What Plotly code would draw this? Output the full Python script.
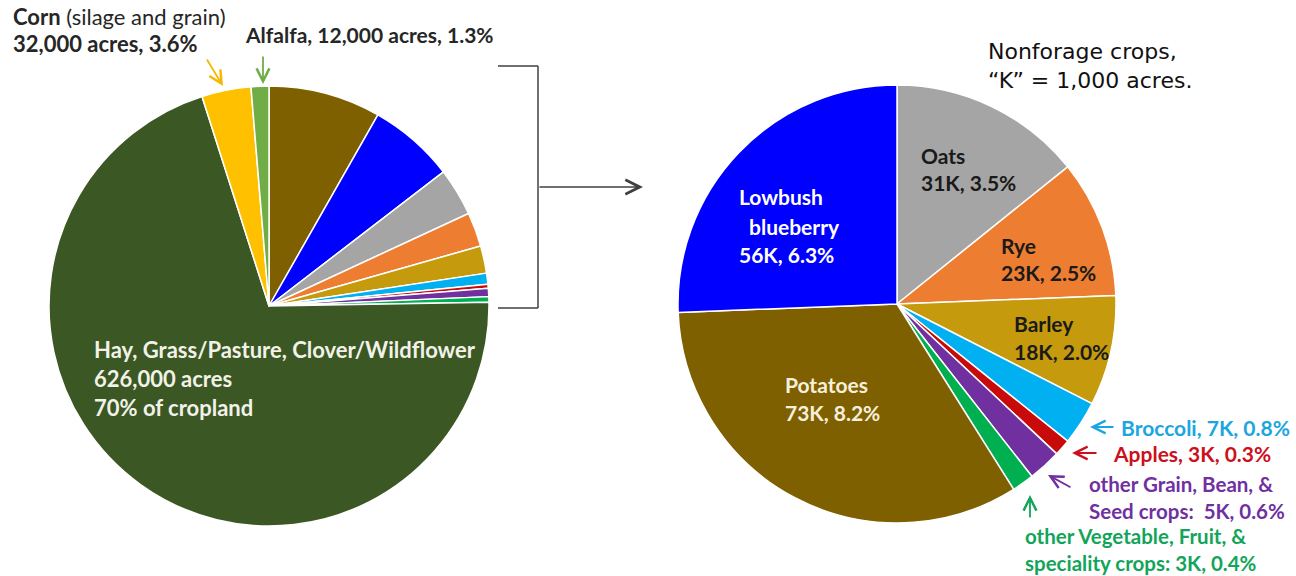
import plotly.graph_objects as go

# ---------------- data ----------------
nonforage_crops = ["Potatoes", "Lowbush blueberry", "Oats", "Rye", "Barley", "Broccoli", "Apples",
                   "other Grain, Bean, & Seed crops", "other Vegetable, Fruit, & speciality crops"]
nonforage_k = [73, 56, 31, 23, 18, 7, 3, 5, 3]
nonforage_pct = [8.2, 6.3, 3.5, 2.5, 2.0, 0.8, 0.3, 0.6, 0.4]

forage_crops = ["Hay, Grass/Pasture, Clover/Wildflower", "Corn", "Alfalfa"]
forage_acres = [626000, 32000, 12000]
forage_pct = [70, 3.6, 1.3]

# ---------------- styles ----------------
colors = {
    "Potatoes": "#7F6000",
    "Lowbush blueberry": "#0000FF",
    "Oats": "#A5A5A5",
    "Rye": "#ED7D31",
    "Barley": "#C59A0C",
    "Broccoli": "#00B0F0",
    "Apples": "#C80A0A",
    "other Grain, Bean, & Seed crops": "#7030A0",
    "other Vegetable, Fruit, & speciality crops": "#00B050",
    "Hay, Grass/Pasture, Clover/Wildflower": "#3A5724",
    "Corn": "#FFC000",
    "Alfalfa": "#70AD47",
}

W, H = 1296, 576
FONT = "Lato"
TITLE_FONT = "DejaVu Sans"


def px(x):
    return x / W


def py(y):
    return 1 - y / H


fig = go.Figure()

# Left pie: all cropland (nonforage wedge first, clockwise from 12 o'clock)
left_labels = nonforage_crops + forage_crops
left_values = nonforage_pct + forage_pct
lcx, lcy, lr = 269, 306, 220
fig.add_trace(go.Pie(
    labels=left_labels, values=left_values, sort=False, direction="clockwise", rotation=0,
    marker=dict(colors=[colors[c] for c in left_labels], line=dict(color="white", width=1.5)),
    textinfo="none", hoverinfo="label+value", showlegend=False,
    domain=dict(x=[px(lcx - lr), px(lcx + lr)], y=[py(lcy + lr), py(lcy - lr)]),
))

# Right pie: nonforage crops only, starting with Oats at 12 o'clock
order = [2, 3, 4, 5, 6, 7, 8, 0, 1]
right_labels = [nonforage_crops[i] for i in order]
right_values = [nonforage_pct[i] for i in order]
rcx, rcy, rr = 897, 304, 219
fig.add_trace(go.Pie(
    labels=right_labels, values=right_values, sort=False, direction="clockwise", rotation=0,
    marker=dict(colors=[colors[c] for c in right_labels], line=dict(color="white", width=1.5)),
    textinfo="none", hoverinfo="label+value", showlegend=False,
    domain=dict(x=[px(rcx - rr), px(rcx + rr)], y=[py(rcy + rr), py(rcy - rr)]),
))


def text(x, y, s, color="#1a1a1a", size=21, bold=True, anchor="left", family=FONT, yanchor="middle"):
    fig.add_annotation(x=px(x), y=py(y), xref="paper", yref="paper", text=s, showarrow=False,
                       xanchor=anchor, yanchor=yanchor, borderpad=0, align="left",
                       font=dict(family=family, size=size, color=color, weight="bold" if bold else "normal"))


def arrow(tip, tail, color, width=1.8, size=1.4, head=5):
    fig.add_annotation(x=px(tip[0]), y=py(tip[1]), xref="paper", yref="paper",
                       ax=tail[0] - tip[0], ay=tail[1] - tip[1], axref="pixel", ayref="pixel",
                       text="", showarrow=True, arrowhead=head, arrowsize=size, arrowwidth=width,
                       arrowcolor=color, standoff=0, startstandoff=0)


def k_label(i):
    return f"{nonforage_k[i]}K, {nonforage_pct[i]:.1f}%"


# Left pie labels
hay_i, corn_i, alf_i = 0, 1, 2
hay_col = "#F2F2E8"
text(93, 349, forage_crops[hay_i], color=hay_col, size=22)
text(93, 378, f"{forage_acres[hay_i]:,} acres", color=hay_col, size=22)
text(93, 407, f"{forage_pct[hay_i]}% of cropland", color=hay_col, size=22)

text(12, 17, f"<b>{forage_crops[corn_i]}</b> (silage and grain)", color="#262626", size=22, bold=False)
text(12, 44, f"{forage_acres[corn_i]:,} acres, {forage_pct[corn_i]}%", color="#262626", size=22)
text(244, 34, f"{forage_crops[alf_i]}, {forage_acres[alf_i]:,} acres, {forage_pct[alf_i]}%",
     color="#262626", size=21)
arrow((223, 86), (206, 58), "#F5B800")
arrow((263, 84), (263, 55), "#70AD47")

# Bracket and connector arrow
bk = "#404040"
for x0, y0, x1, y1 in [(498, 66, 538, 66), (538, 66, 538, 308), (498, 308, 538, 308)]:
    fig.add_shape(type="line", xref="paper", yref="paper", x0=px(x0), y0=py(y0), x1=px(x1), y1=py(y1),
                  line=dict(color=bk, width=1.5))
arrow((643, 187), (538, 187), bk, width=1.5, size=1.9, head=5)

# Right pie title
text(987, 66, "Nonforage crops,<br>\u201cK\u201d = 1,000 acres.", color="#111111", size=22,
     bold=False, family=TITLE_FONT)

# Right pie inside labels
text(920, 155, "Oats")
text(920, 182, k_label(2))
text(1000, 246, "Rye")
text(1000, 273, k_label(3))
text(1013, 323, "Barley")
text(1013, 351, k_label(4))
text(738, 197, "Lowbush", color="white")
text(748, 226, "blueberry", color="white")
text(738, 255, k_label(1), color="white")
text(784, 384, "Potatoes", color="#F5F0DC")
text(784, 412, k_label(0), color="#F5F0DC")

# Right pie outside labels with arrows
c_broc, c_app, c_grain, c_veg = "#1CA6DF", "#CC1020", "#7030A0", "#12A55A"
text(1120, 427, f"Broccoli, {k_label(5)}", color=c_broc)
arrow((1090, 427), (1115, 427), c_broc)
text(1112, 453, f"Apples, {k_label(6)}", color=c_app)
arrow((1072, 453), (1098, 453), c_app)
text(1088, 471, f"other Grain, Bean, &<br>Seed crops:  {k_label(7)}", color=c_grain, size=20.5,
     yanchor="top")
arrow((1048, 475), (1072, 488), c_grain)
text(1024, 576, f"other Vegetable, Fruit, &<br>speciality crops: {k_label(8)}", color=c_veg, size=20.5,
     yanchor="bottom")
arrow((1030, 495), (1030, 519), c_veg)

fig.update_layout(width=W, height=H, margin=dict(l=0, r=0, t=0, b=0),
                  paper_bgcolor="white", plot_bgcolor="white", showlegend=False)

fig.write_html("out.html", config={"displayModeBar": False},
               post_script="document.body.style.margin='0';document.body.style.padding='0';"
                           "document.body.style.overflow='hidden';")
